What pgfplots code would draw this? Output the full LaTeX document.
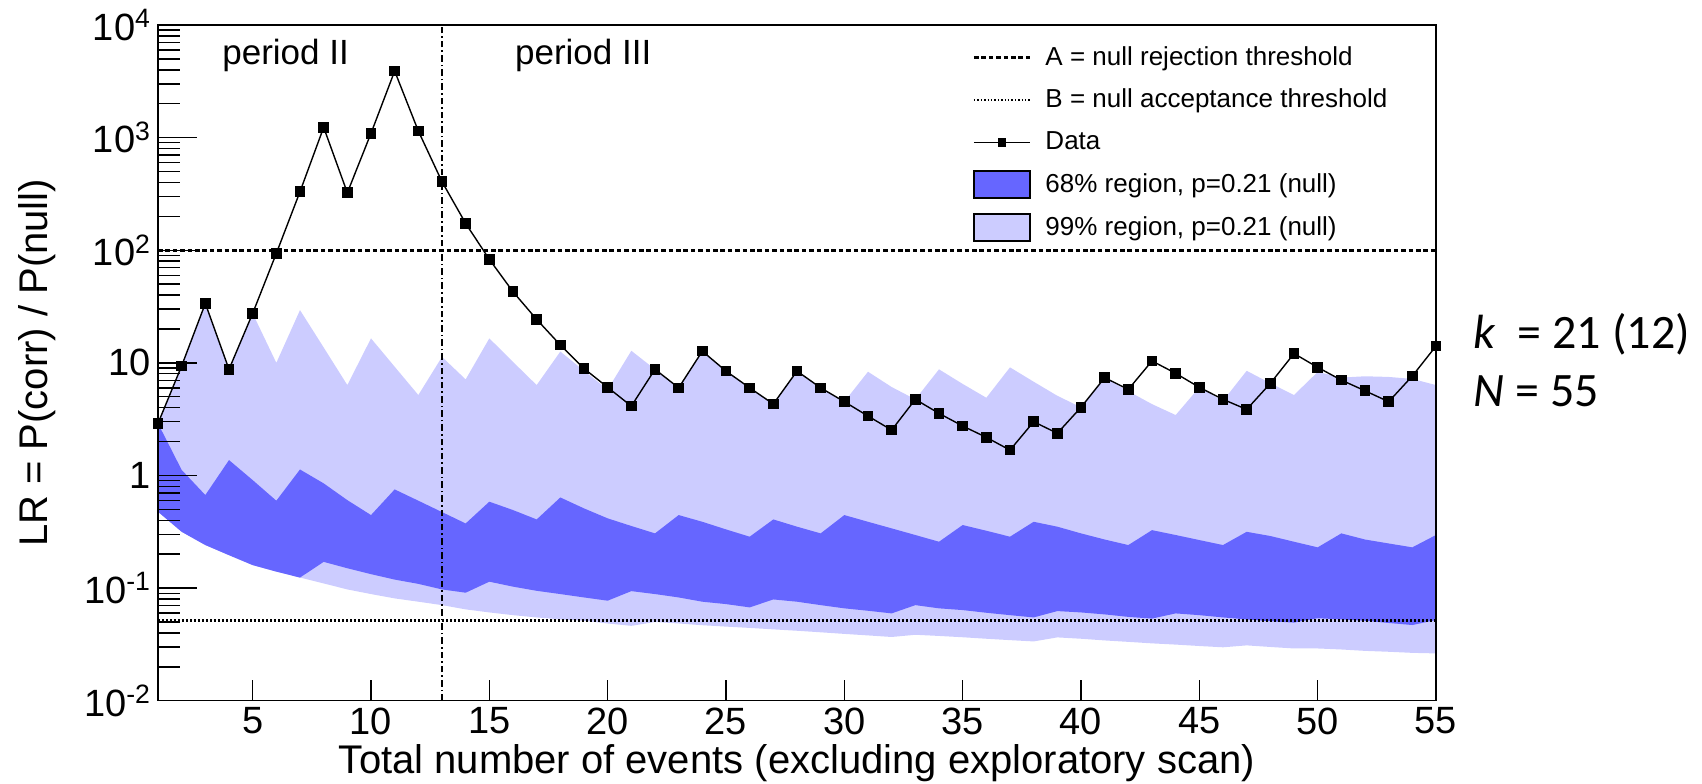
\documentclass[border=0pt]{standalone}
\usepackage{fontspec}
\setmainfont{Liberation Sans}
\newfontfamily\calfont{Carlito}
\usepackage{pgfplots}
\usepackage{pgfplotstable}
\pgfplotsset{compat=1.18}
\usepgfplotslibrary{fillbetween}
\definecolor{band68}{HTML}{6666FF}
\definecolor{band99}{HTML}{CCCCFF}

% n, data, 99% upper, 68% upper, 68% lower, 99% lower
\pgfplotstableread{
n  d     u99   u68   l68    l99
1  2.90  2.90  2.90  0.476  0.476
2  9.40  9.40  1.12  0.316  0.316
3  33.7  33.7  0.670 0.241  0.241
4  8.76  8.76  1.37  0.196  0.196
5  27.5  27.5  0.910 0.160  0.160
6  93.8  10.0  0.597 0.140  0.140
7  331   29.4  1.13  0.124  0.124
8  1234  13.7  0.851 0.171  0.110
9  324   6.35  0.604 0.150  0.0973
10 1092  16.5  0.445 0.133  0.0885
11 3902  9.24  0.752 0.119  0.0810
12 1145  5.18  0.597 0.109  0.0757
13 406   11.3  0.473 0.0973 0.0706
14 173   7.13  0.375 0.0910 0.0647
15 83.0  16.5  0.585 0.114  0.0608
16 42.8  10.2  0.493 0.103  0.0575
17 24.3  6.35  0.407 0.0946 0.0549
18 14.4  12.6  0.638 0.0885 0.0527
19 8.90  8.50  0.510 0.0826 0.0513
20 6.06  5.80  0.416 0.0773 0.0485
21 4.13  12.8  0.356 0.0940 0.0462
22 8.76  8.76  0.306 0.0885 0.0500
23 6.00  6.00  0.445 0.0826 0.0485
24 12.7  12.7  0.388 0.0757 0.0468
25 8.45  8.45  0.332 0.0721 0.0455
26 6.00  6.00  0.286 0.0674 0.0443
27 4.31  4.31  0.407 0.0793 0.0430
28 8.45  8.45  0.351 0.0757 0.0418
29 6.00  6.00  0.306 0.0706 0.0405
30 4.52  4.52  0.445 0.0661 0.0392
31 3.37  8.34  0.388 0.0629 0.0380
32 2.53  6.10  0.339 0.0596 0.0368
33 4.74  4.74  0.296 0.0706 0.0385
34 3.56  8.76  0.258 0.0661 0.0376
35 2.75  6.50  0.363 0.0638 0.0366
36 2.18  4.90  0.323 0.0604 0.0355
37 1.68  9.12  0.286 0.0575 0.0345
38 3.00  6.80  0.388 0.0549 0.0336
39 2.37  5.10  0.351 0.0625 0.0365
40 4.03  4.03  0.306 0.0608 0.0355
41 7.38  7.38  0.270 0.0584 0.0343
42 5.81  5.60  0.241 0.0555 0.0333
43 10.4  4.30  0.327 0.0536 0.0323
44 8.07  3.44  0.296 0.0596 0.0315
45 6.06  6.06  0.267 0.0575 0.0306
46 4.74  4.60  0.241 0.0549 0.0298
47 3.86  8.50  0.316 0.0527 0.0310
48 6.57  6.60  0.290 0.0508 0.0300
49 12.1  5.18  0.258 0.0494 0.0291
50 9.12  8.30  0.230 0.0540 0.0291
51 7.03  7.40  0.306 0.0527 0.0285
52 5.65  7.60  0.270 0.0513 0.0277
53 4.52  7.50  0.249 0.0490 0.0272
54 7.64  7.20  0.230 0.0470 0.0266
55 14.1  6.35  0.296 0.0520 0.0263
}\tbl

\begin{document}
\begin{tikzpicture}
\begin{axis}[
    scale only axis,
    width=639pt, height=337.85pt,
    ymode=log,
    xmin=1, xmax=55,
    ymin=1e-2, ymax=1e4,
    clip=false,
    axis on top,
    /pgf/number format/assume math mode=true,
    xtick={5,10,...,55},
    ytick={1e-2,1e-1,1,10,100,1000,10000},
    yticklabels={10\textsuperscript{-2},10\textsuperscript{-1},1,10,10\textsuperscript{2},10\textsuperscript{3},10\textsuperscript{4}},
    minor ytick={2e-2,3e-2,4e-2,5e-2,6e-2,7e-2,8e-2,9e-2,
                 0.2,0.3,0.4,0.5,0.6,0.7,0.8,0.9,
                 2,3,4,5,6,7,8,9,
                 20,30,40,50,60,70,80,90,
                 200,300,400,500,600,700,800,900,
                 2000,3000,4000,5000,6000,7000,8000,9000},
    tick align=inside,
    xtick pos=bottom, ytick pos=left,
    major tick length=10.5pt,
    minor tick length=11pt,
    every tick/.style={black, line width=0.7pt},
    axis line style={line width=0.75pt},
    tick label style={font=\fontsize{19}{22}\selectfont},
    label style={font=\fontsize{20}{24}\selectfont},
    xlabel={Total number of events (excluding exploratory scan)},
    ylabel={LR = P(corr) / P(null)},
    xlabel style={at={(axis description cs:0.5,-0.107)}, anchor=base},
    ylabel style={at={(axis description cs:-0.0861,0.5)}, anchor=base},
    legend style={draw=none, fill=none, at={(axis description cs:0.637,0.975)},
        anchor=north west, font=\fontsize{13}{15}\selectfont,
        row sep=6.5pt, column sep=5pt, inner sep=0pt},
    legend cell align=left,
]
% 99% band
\addplot[draw=none, name path=u99, forget plot] table[x=n, y=u99] {\tbl};
\addplot[draw=none, name path=l99, forget plot] table[x=n, y=l99] {\tbl};
\addplot[fill=band99, draw=none, forget plot] fill between[of=u99 and l99];
% 68% band
\addplot[draw=none, name path=u68, forget plot] table[x=n, y=u68] {\tbl};
\addplot[draw=none, name path=l68, forget plot] table[x=n, y=l68] {\tbl};
\addplot[fill=band68, draw=none, forget plot] fill between[of=u68 and l68];

% longer major ticks on the y axis, ticks on the x axis
\pgfplotsinvokeforeach{0.1,1,10,100,1000}{
    \draw[black, line width=0.7pt] (axis cs:1,#1) -- ++(19.5pt,0pt);
}
\pgfplotsinvokeforeach{5,10,15,20,25,30,35,40,45,50}{
    \draw[black, line width=0.7pt] (axis cs:#1,0.01) -- ++(0pt,10.5pt);
}

% thresholds
\addplot[forget plot, black, line width=1.5pt, dash pattern=on 2.3pt off 1.4pt]
    coordinates {(1,100) (55,100)};
\addplot[forget plot, black, line width=1.5pt, dash pattern=on 0.8pt off 1.2pt]
    coordinates {(1,0.052) (55,0.052)};
\draw[black, line width=0.9pt, dash pattern=on 3.3pt off 1.5pt on 0.8pt off 1.5pt]
    (axis cs:13,0.01) -- (axis cs:13,10000);

% data
\addplot[forget plot, black, line width=0.7pt, mark=square*, mark size=2.3pt]
    table[x=n, y=d] {\tbl};

\node[anchor=base west, font=\fontsize{17.5}{20}\selectfont] at (axis cs:3.42,4477) {period II};
\node[anchor=base west, font=\fontsize{17.5}{20}\selectfont] at (axis cs:15.79,4477) {period III};
\node[anchor=base west, font=\calfont\fontsize{24}{28}\selectfont] at (axis cs:56.3,13.3) {\textit{k}\ \ = 21 (12)};
\node[anchor=base west, font=\calfont\fontsize{24}{28}\selectfont] at (axis cs:56.3,4.08) {\textit{N} = 55};

% legend
\addlegendimage{legend image code/.code={\draw[black, line width=1.5pt, dash pattern=on 2.3pt off 1.4pt] (0pt,0pt) -- (28pt,0pt);}}
\addlegendentry{A = null rejection threshold}
\addlegendimage{legend image code/.code={\draw[black, line width=1.2pt, dash pattern=on 0.7pt off 1.0pt] (0pt,0pt) -- (28pt,0pt);}}
\addlegendentry{B = null acceptance threshold}
\addlegendimage{legend image code/.code={\draw[black, line width=0.8pt] (0pt,0pt) -- (28pt,0pt); \fill[black] (12pt,-1.8pt) rectangle (15.6pt,1.8pt);}}
\addlegendentry{Data}
\addlegendimage{legend image code/.code={\draw[black, line width=0.8pt, fill=band68] (0pt,-6.75pt) rectangle (28pt,6.75pt);}}
\addlegendentry{68\% region, p=0.21 (null)}
\addlegendimage{legend image code/.code={\draw[black, line width=0.8pt, fill=band99] (0pt,-6.75pt) rectangle (28pt,6.75pt);}}
\addlegendentry{99\% region, p=0.21 (null)}
\end{axis}
\pgfresetboundingbox
\path (-79pt,-41.15pt) rectangle (772pt,350.35pt);
\end{tikzpicture}
\end{document}
